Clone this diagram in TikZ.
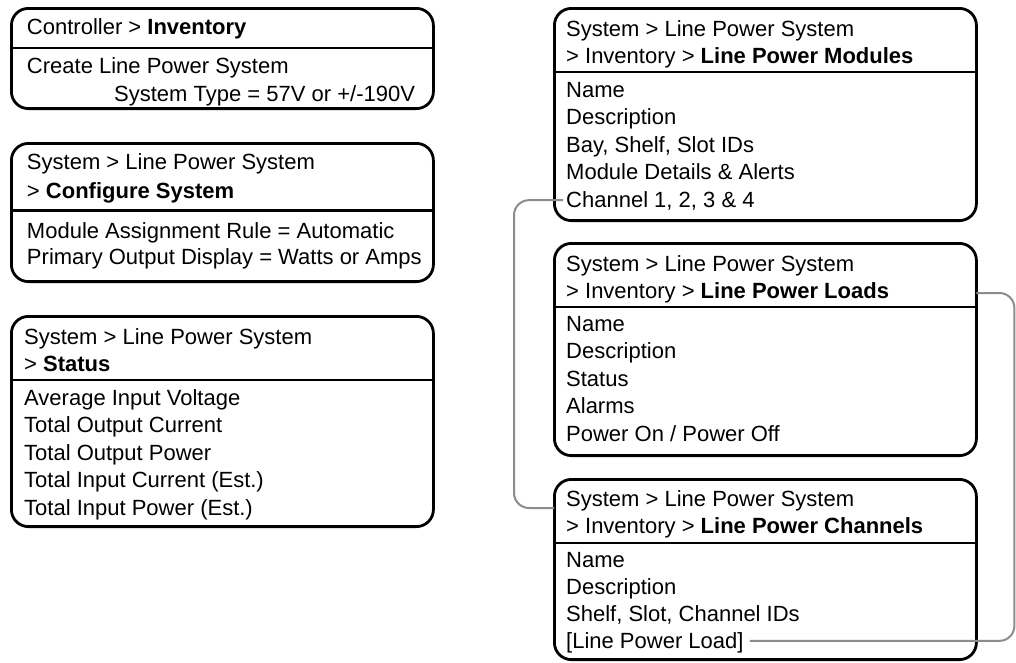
\documentclass[tikz,border=0pt]{standalone}
\usepackage{fontspec}
\setmainfont{Liberation Sans}
\usepackage{xcolor}
\definecolor{linkgray}{HTML}{8C8C8C}
\usetikzlibrary{positioning}
\tikzstyle{panel} = [
  draw=black, line width=2.8pt, rounded corners=17pt,
  minimum width=422pt, inner sep=0pt, outer sep=0pt
]
\tikzstyle{divider} = [
  draw=black, line width=2.8pt
]
\tikzstyle{item} = [
  anchor=base west, inner sep=0pt, text height=17.6pt, text depth=3.3pt,
  font=\fontsize{22pt}{27.4pt}\selectfont
]
\tikzstyle{link} = [
  draw=linkgray, line width=2pt, rounded corners=15pt
]

\begin{document}
\begin{tikzpicture}[x=1pt, y=-1pt]

  \fill[white] (0,0) rectangle (1016,662);
  \useasboundingbox (0,0) rectangle (1016,662);

  % ── Left column ───────────────────────────────────────
  \node[panel, minimum height=100.2pt, anchor=north west] (inv) at (11.4,8.4) {};
  \node[panel, minimum height=138.2pt, below=34.8pt of inv] (cfg) {};
  \node[panel, minimum height=210.2pt, below=34.8pt of cfg] (sts) {};

  \draw[divider] ([yshift=-39.6pt]inv.north west) -- ([yshift=-39.6pt]inv.north east);
  \draw[divider] ([yshift=-67.3pt]cfg.north west) -- ([yshift=-67.3pt]cfg.north east);
  \draw[divider] ([yshift=-63.6pt]sts.north west) -- ([yshift=-63.6pt]sts.north east);

  % Controller > Inventory
  \node[item] (inv-h) at ([xshift=15.4pt, yshift=-26.3pt]inv.north west)
    {Controller > \textbf{Inventory}};
  \node[item] (inv-1) at ([xshift=15.4pt, yshift=-64.6pt]inv.north west)
    {Create Line Power System};
  \node[item] (inv-2) at ([xshift=102.6pt, yshift=-92.9pt]inv.north west)
    {System Type = 57V or +/-190V};

  % Configure System
  \node[item] (cfg-h1) at ([xshift=15.4pt, yshift=-26.3pt]cfg.north west)
    {System > Line Power System};
  \node[item] (cfg-h2) at ([xshift=15.4pt, yshift=-54.6pt]cfg.north west)
    {> \textbf{Configure System}};
  \node[item] (cfg-1) at ([xshift=15.4pt, yshift=-94.6pt]cfg.north west)
    {Module Assignment Rule = Automatic};
  \node[item] (cfg-2) at ([xshift=15.4pt, yshift=-121.3pt]cfg.north west)
    {Primary Output Display = Watts or Amps};

  % Status
  \node[item] (sts-h1) at ([xshift=12.6pt, yshift=-27.6pt]sts.north west)
    {System > Line Power System};
  \node[item] (sts-h2) at ([xshift=12.6pt, yshift=-54.6pt]sts.north west)
    {> \textbf{Status}};
  \foreach \txt [count=\i] in {Average Input Voltage, Total Output Current,
      Total Output Power, Total Input Current (Est.), Total Input Power (Est.)}
    \node[item] (sts-\i) at ([xshift=12.6pt, yshift={-88.6pt-(\i-1)*27.5pt}]sts.north west) {\txt};

  % ── Right column ──────────────────────────────────────
  \node[panel, minimum height=212.2pt, anchor=north west] (mod) at (554.4,8.4) {};
  \node[panel, minimum height=212.2pt, below=22.8pt of mod] (lod) {};
  \node[panel, minimum height=180.2pt, below=23.8pt of lod] (chn) {};

  \draw[divider] ([yshift=-63.6pt]mod.north west) -- ([yshift=-63.6pt]mod.north east);
  \draw[divider] ([yshift=-63.6pt]lod.north west) -- ([yshift=-63.6pt]lod.north east);
  \draw[divider] ([yshift=-63.6pt]chn.north west) -- ([yshift=-63.6pt]chn.north east);

  % Line Power Modules
  \node[item] (mod-h1) at ([xshift=11.6pt, yshift=-27.9pt]mod.north west)
    {System > Line Power System};
  \node[item] (mod-h2) at ([xshift=11.6pt, yshift=-54.6pt]mod.north west)
    {> Inventory > \textbf{Line Power Modules}};
  \foreach \txt [count=\i] in {Name, Description, {Bay, Shelf, Slot IDs},
      Module Details \& Alerts, {Channel 1, 2, 3 \& 4}}
    \node[item] (mod-\i) at ([xshift=11.6pt, yshift={-88.9pt-(\i-1)*27.5pt}]mod.north west) {\txt};

  % Line Power Loads
  \node[item] (lod-h1) at ([xshift=11.6pt, yshift=-27.6pt]lod.north west)
    {System > Line Power System};
  \node[item] (lod-h2) at ([xshift=11.6pt, yshift=-54.6pt]lod.north west)
    {> Inventory > \textbf{Line Power Loads}};
  \foreach \txt [count=\i] in {Name, Description, Status, Alarms,
      Power On / Power Off}
    \node[item] (lod-\i) at ([xshift=11.6pt, yshift={-87.9pt-(\i-1)*27.5pt}]lod.north west) {\txt};

  % Line Power Channels
  \node[item] (chn-h1) at ([xshift=11.6pt, yshift=-26.9pt]chn.north west)
    {System > Line Power System};
  \node[item] (chn-h2) at ([xshift=11.6pt, yshift=-53.6pt]chn.north west)
    {> Inventory > \textbf{Line Power Channels}};
  \foreach \txt [count=\i] in {Name, Description, {Shelf, Slot, Channel IDs},
      {[Line Power Load]}}
    \node[item] (chn-\i) at ([xshift=11.6pt, yshift={-87.6pt-(\i-1)*27pt}]chn.north west) {\txt};

  % ── Links ─────────────────────────────────────────────
  \draw[link] ([xshift=-3pt]mod-5.west) -- ++(-49pt,0)
    |- ([yshift=-28.6pt]chn.north west);
  \draw[link] ([yshift=-49.6pt]lod.north east) -- ++(38pt,0)
    |- ([xshift=6pt]chn-4.east);

\end{tikzpicture}
\end{document}
